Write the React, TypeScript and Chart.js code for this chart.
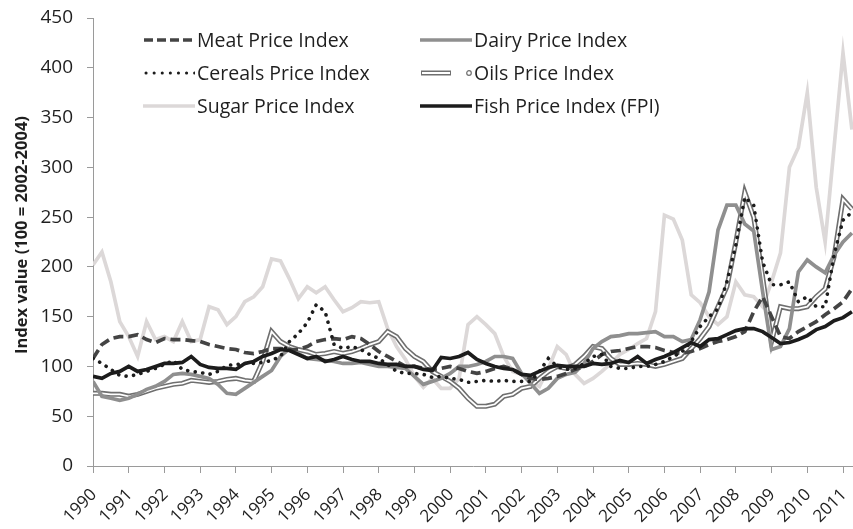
import React, { useEffect, useRef } from "react";
import { Chart, registerables } from "chart.js";

Chart.register(...registerables);

// Quarterly observations, Jan 1990 .. Apr 2011 (86 points)
const START_YEAR = 1990;
const PERIODS_PER_YEAR = 4;
const N_PERIODS = 86;
const periods: number[] = Array.from({ length: N_PERIODS }, (_, i) => START_YEAR + i / PERIODS_PER_YEAR);

const yearLabels = [
  "1990", "1991", "1992", "1993", "1994", "1995", "1996", "1997", "1998", "1999", "2000",
  "2001", "2002", "2003", "2004", "2005", "2006", "2007", "2008", "2009", "2010", "2011",
];

const yTitle = "Index value (100 = 2002-2004)";

const meat = [
  108, 122, 128, 130, 130, 132, 127, 124, 128, 127, 127, 126, 125, 122, 120, 118,
  117, 114, 113, 115, 118, 118, 117, 117, 120, 125, 127, 128, 127, 130, 128, 122,
  115, 110, 105, 100, 100, 98, 97, 98, 100, 98, 95, 93, 95, 98, 100, 97,
  92, 88, 87, 88, 90, 93, 97, 100, 105, 112, 115, 116, 118, 120, 120, 119,
  116, 114, 113, 115, 118, 122, 125, 127, 130, 135, 155, 170, 150, 130, 128, 135,
  140, 145, 152, 158, 165, 178,
];

const dairy = [
  85, 70, 68, 66, 68, 72, 77, 80, 85, 92, 93, 92, 90, 88, 82, 73,
  72, 78, 84, 90, 96, 110, 118, 113, 108, 107, 106, 105, 103, 103, 104, 102,
  100, 100, 99, 98, 90, 82, 85, 88, 93, 100, 100, 102, 105, 110, 110, 108,
  93, 83, 73, 78, 88, 92, 94, 103, 118, 125, 130, 131, 133, 133, 134, 135,
  130, 130, 125, 127, 147, 175, 237, 262, 262, 243, 236, 175, 117, 120, 138, 195,
  207, 200, 194, 212, 225, 234,
];

const cereals = [
  108, 103, 97, 91, 90, 92, 95, 98, 102, 106, 97, 95, 94, 92, 95, 101,
  102, 103, 103, 104, 106, 110, 125, 133, 144, 162, 155, 122, 118, 120, 117, 112,
  108, 102, 95, 93, 93, 92, 89, 90, 88, 87, 84, 85, 86, 85, 86, 85,
  85, 85, 95, 108, 100, 97, 98, 103, 110, 112, 100, 98, 98, 100, 100, 102,
  105, 110, 115, 125, 140, 150, 158, 185, 222, 270, 262, 205, 182, 182, 185, 165,
  170, 160, 160, 212, 247, 255,
];

const oils = [
  73, 73, 72, 72, 70, 72, 75, 78, 80, 82, 83, 86, 85, 84, 85, 87,
  88, 86, 85, 105, 135, 125, 120, 117, 115, 112, 113, 115, 113, 115, 118, 122,
  125, 135, 130, 118, 110, 105, 95, 90, 85, 78, 68, 60, 60, 62, 70, 72,
  78, 80, 88, 95, 100, 98, 102, 110, 120, 118, 108, 102, 102, 103, 102, 100,
  102, 105, 108, 118, 128, 140, 160, 180, 225, 275, 250, 190, 125, 160, 158, 158,
  160, 170, 178, 210, 268, 258,
];

const sugar = [
  202, 215, 185, 145, 130, 110, 145, 127, 130, 125, 145, 125, 127, 160, 157, 142,
  150, 165, 170, 180, 208, 206, 188, 168, 180, 174, 180, 167, 155, 159, 165, 164,
  165, 138, 120, 107, 90, 79, 88, 78, 78, 88, 142, 150, 142, 133, 110, 95,
  92, 85, 80, 98, 120, 112, 92, 83, 88, 95, 103, 112, 117, 123, 128, 155,
  252, 248, 227, 172, 164, 150, 142, 150, 185, 172, 170, 160, 185, 214, 300, 320,
  375, 280, 225, 320, 415, 338,
];

const fish = [
  90, 88, 93, 95, 100, 95, 97, 100, 103, 103, 104, 110, 102, 99, 98, 98,
  97, 103, 105, 110, 113, 117, 116, 112, 108, 110, 105, 107, 110, 107, 105, 105,
  103, 102, 102, 100, 100, 97, 96, 109, 108, 110, 114, 107, 103, 100, 98, 97,
  92, 91, 95, 99, 101, 100, 100, 100, 103, 102, 103, 106, 104, 110, 103, 107,
  110, 114, 119, 124, 120, 127, 128, 132, 136, 138, 138, 135, 129, 123, 124, 127,
  131, 137, 140, 146, 149, 155,
];

const FONT = "'Open Sans', 'Liberation Sans', sans-serif";
const TEXT = "#1f1f1f";
const AXIS = "#9a9a9a";

const C_MEAT = "#444444";
const C_DAIRY = "#8f8f8f";
const C_CEREALS = "#1c1c1c";
const C_OILS = "#6f6f6f";
const C_SUGAR = "#dcd8d8";
const C_FISH = "#1c1c1c";

type LegendKind = "dash" | "dot" | "solid" | "double";
const legendItems: { label: string; kind: LegendKind; color: string; col: number; row: number }[] = [
  { label: "Meat Price Index", kind: "dash", color: C_MEAT, col: 0, row: 0 },
  { label: "Cereals Price Index", kind: "dot", color: C_CEREALS, col: 0, row: 1 },
  { label: "Sugar Price Index", kind: "solid", color: C_SUGAR, col: 0, row: 2 },
  { label: "Dairy Price Index", kind: "solid", color: C_DAIRY, col: 1, row: 0 },
  { label: "Oils Price Index", kind: "double", color: C_OILS, col: 1, row: 1 },
  { label: "Fish Price Index (FPI)", kind: "solid", color: C_FISH, col: 1, row: 2 },
];

const colLeft = [143, 420];
const rowCenter = [40, 73, 106];

function Sample({ kind, color }: { kind: LegendKind; color: string }) {
  const w = 52;
  const h = 12;
  const y = 6;
  if (kind === "dash") {
    return (
      <svg width={w} height={h}>
        <line x1={1} y1={y} x2={w} y2={y} stroke={color} strokeWidth={3.5} strokeDasharray="9 4" />
      </svg>
    );
  }
  if (kind === "dot") {
    return (
      <svg width={w} height={h}>
        <line x1={3} y1={y} x2={w} y2={y} stroke={color} strokeWidth={3} strokeDasharray="0.1 8" strokeLinecap="round" />
      </svg>
    );
  }
  if (kind === "double") {
    return (
      <svg width={w} height={h}>
        <line x1={1} y1={y} x2={31} y2={y} stroke={color} strokeWidth={5} />
        <line x1={2} y1={y} x2={30} y2={y} stroke="#ffffff" strokeWidth={2} />
        <circle cx={49} cy={y} r={2.3} fill="#ffffff" stroke={color} strokeWidth={1.2} />
      </svg>
    );
  }
  return (
    <svg width={w} height={h}>
      <line x1={0} y1={y} x2={w} y2={y} stroke={color} strokeWidth={3.5} />
    </svg>
  );
}

// Draws the rotated year labels under the x axis (anchored on the scale's own ticks)
// and the rotated y-axis title.
const axisText = {
  id: "axisText",
  afterDraw(chart: any) {
    const scale = chart.scales.x;
    const ctx = chart.ctx;
    if (scale) {
      ctx.save();
      ctx.fillStyle = TEXT;
      ctx.font = `17px ${FONT}`;
      ctx.textAlign = "right";
      ctx.textBaseline = "middle";
      const y0 = scale.top + 26;
      for (const t of scale.ticks) {
        const idx = Math.round(Number(t.value) - START_YEAR);
        const label = yearLabels[idx];
        if (label === undefined) continue;
        const px = scale.getPixelForValue(t.value);
        ctx.save();
        ctx.translate(px + 1, y0);
        ctx.rotate(-Math.PI / 4);
        ctx.fillText(label, 0, 0);
        ctx.restore();
      }
      ctx.restore();
    }
    ctx.save();
    ctx.fillStyle = TEXT;
    ctx.font = `bold 16.5px ${FONT}`;
    ctx.textAlign = "center";
    ctx.textBaseline = "middle";
    ctx.translate(22, 235);
    ctx.rotate(-Math.PI / 2);
    ctx.fillText(yTitle, 0, 0);
    ctx.restore();
  },
};

export default function App() {
  const canvasRef = useRef<HTMLCanvasElement | null>(null);

  useEffect(() => {
    document.body.style.margin = "0";
    const canvas = canvasRef.current;
    if (!canvas) return;
    const pts = (vals: number[]) => periods.map((x, i) => ({ x, y: vals[i] }));
    const line = (label: string, vals: number[], color: string, width: number, extra: any = {}) => ({
      label,
      data: pts(vals),
      borderColor: color,
      backgroundColor: color,
      borderWidth: width,
      pointRadius: 0,
      tension: 0,
      fill: false,
      ...extra,
    });

    const chart = new Chart(canvas, {
      type: "line",
      data: {
        datasets: [
          line("Fish Price Index (FPI)", fish, C_FISH, 3.7),
          line("Cereals Price Index", cereals, C_CEREALS, 3.6, { borderDash: [0.1, 7.5], borderCapStyle: "round" }),
          line("Meat Price Index", meat, C_MEAT, 3.7, { borderDash: [10, 5] }),
          line("Dairy Price Index", dairy, C_DAIRY, 3.7),
          line("Oils Price Index (inner)", oils, "#ffffff", 1.8),
          line("Oils Price Index", oils, C_OILS, 5),
          line("Sugar Price Index", sugar, C_SUGAR, 3.7),
        ],
      },
      options: {
        responsive: false,
        maintainAspectRatio: false,
        animation: false,
        devicePixelRatio: 1,
        layout: { padding: { top: 18, right: 0, bottom: 0, left: 0 } },
        plugins: { legend: { display: false }, tooltip: { enabled: false } },
        scales: {
          x: {
            type: "linear",
            min: 1990,
            max: 2011.28,
            bounds: "data",
            ticks: {
              stepSize: 1,
              includeBounds: false,
              autoSkip: false,
              display: false,
            },
            grid: { display: true, drawOnChartArea: false, drawTicks: true, tickLength: 7, color: AXIS, lineWidth: 1 },
            border: { display: true, color: AXIS, width: 1 },
            afterFit: (s: any) => {
              s.height = 63;
              s.paddingRight = 0;
              s.paddingLeft = 0;
            },
          },
          y: {
            type: "linear",
            min: 0,
            max: 450,
            ticks: {
              stepSize: 50,
              padding: 14,
              color: TEXT,
              font: { family: FONT, size: 19 },
            },
            grid: { display: true, drawOnChartArea: false, drawTicks: true, tickLength: 6, color: AXIS, lineWidth: 1 },
            border: { display: true, color: AXIS, width: 1 },
            title: { display: false },
            afterFit: (s: any) => {
              s.width = 93;
              s.paddingTop = 0;
              s.paddingBottom = 0;
            },
          },
        },
      } as any,
      plugins: [axisText],
    });
    return () => chart.destroy();
  }, []);

  return (
    <div style={{ position: "relative", width: 853, height: 529, background: "#fff" }}>
      <canvas ref={canvasRef} width={853} height={529} style={{ display: "block", width: 853, height: 529 }} />
      {legendItems.map((it) => (
        <div
          key={it.label}
          style={{
            position: "absolute",
            left: colLeft[it.col],
            top: rowCenter[it.row] - 12,
            height: 24,
            display: "flex",
            alignItems: "center",
            fontFamily: FONT,
            fontSize: 19.5,
            color: TEXT,
            whiteSpace: "nowrap",
            lineHeight: "24px",
          }}
        >
          <Sample kind={it.kind} color={it.color} />
          <span style={{ marginLeft: 2 }}>{it.label}</span>
        </div>
      ))}
    </div>
  );
}
